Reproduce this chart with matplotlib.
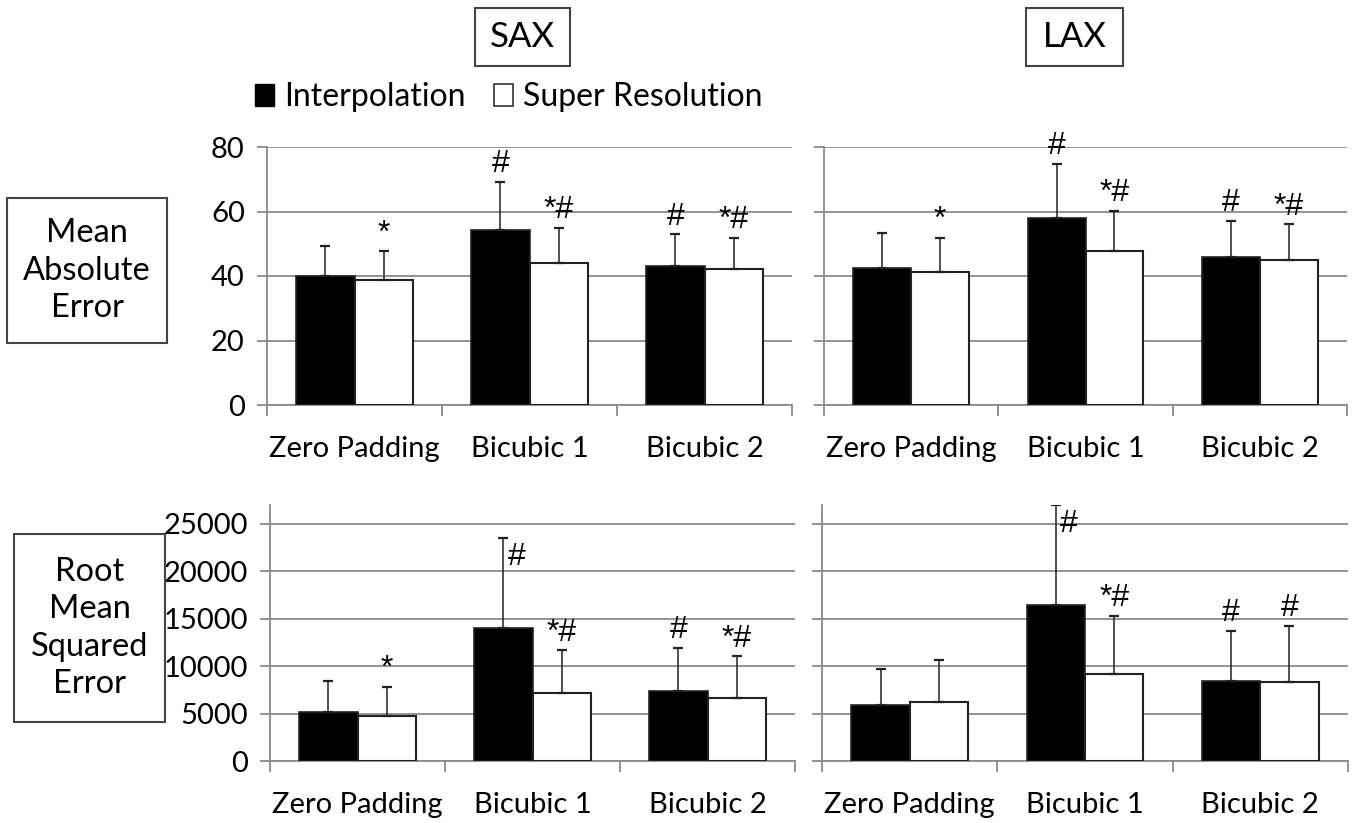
import numpy as np
import matplotlib.pyplot as plt
from matplotlib.patches import Patch, Rectangle

plt.rcParams['font.family'] = ['Lato', 'DejaVu Sans']

categories = ["Zero Padding", "Bicubic 1", "Bicubic 2"]
series_names = ["Interpolation", "Super Resolution"]

# mean values and upper standard deviations
sax_mae_interp = [40.1, 54.3, 43.2]
sax_mae_interp_sd = [9.2, 14.9, 9.7]
sax_mae_sr = [38.7, 44.1, 42.1]
sax_mae_sr_sd = [8.9, 10.7, 9.7]

lax_mae_interp = [42.5, 58.1, 45.8]
lax_mae_interp_sd = [10.8, 16.7, 11.2]
lax_mae_sr = [41.2, 47.7, 45.0]
lax_mae_sr_sd = [10.6, 12.4, 11.0]

sax_rmse_interp = [5200, 14050, 7420]
sax_rmse_interp_sd = [3200, 9510, 4530]
sax_rmse_sr = [4710, 7170, 6650]
sax_rmse_sr_sd = [3130, 4500, 4390]

lax_rmse_interp = [5930, 16430, 8430]
lax_rmse_interp_sd = [3800, 10570, 5260]
lax_rmse_sr = [6220, 9160, 8360]
lax_rmse_sr_sd = [4380, 6150, 5900]

# significance marks above each bar (interpolation, super resolution)
sax_mae_marks = (["", "#", "#"], ["*", "*#", "*#"])
lax_mae_marks = (["", "#", "#"], ["*", "*#", "*#"])
sax_rmse_marks = (["", "#", "#"], ["*", "*#", "*#"])
lax_rmse_marks = (["", "#", "#"], ["", "*#", "#"])

mae_ticks = [0, 20, 40, 60, 80]
rmse_ticks = [0, 5000, 10000, 15000, 20000, 25000]

GRID = '#8a8a8a'
EDGE = '#222222'
MARK_FONT = ['Liberation Sans', 'DejaVu Sans']

W, H = 1355, 823
fig = plt.figure(figsize=(W / 100, H / 100), dpi=100)


def px_axes(x0, x1, y0, y1):
    return fig.add_axes([x0 / W, 1 - y1 / H, (x1 - x0) / W, (y1 - y0) / H])


def panel(ax, interp, interp_sd, sr, sr_sd, marks, ticks, ymax, show_labels, beside=()):
    x = np.arange(len(categories))
    bw = 0.332
    ax.bar(x - bw / 2, interp, bw, color='black', edgecolor=EDGE, linewidth=1.2, zorder=3)
    ax.bar(x + bw / 2, sr, bw, color='white', edgecolor=EDGE, linewidth=1.5, zorder=3)
    groups = ((x - bw / 2, interp, interp_sd, marks[0]),
              (x + bw / 2, sr, sr_sd, marks[1]))
    for xs, vals, sds, _ in groups:
        ax.errorbar(xs, vals, yerr=[np.zeros(len(sds)), sds], fmt='none',
                    ecolor=EDGE, elinewidth=1.1, capsize=3.3, capthick=1.6, zorder=4)
    for si, (xs, vals, sds, lbls) in enumerate(groups):
        for i, (xi, v, s, lbl) in enumerate(zip(xs, vals, sds, lbls)):
            if not lbl:
                continue
            top = v + s
            if (si, i) in beside:
                # whisker reaches the top: put the mark next to it
                ax.annotate(lbl, (xi, top), xytext=(3, -3), textcoords='offset points',
                            ha='left', va='top', fontsize=23, family=MARK_FONT,
                            zorder=5, annotation_clip=False)
            else:
                ax.annotate(lbl, (xi, top), xytext=(0, 2), textcoords='offset points',
                            ha='center', va='bottom', fontsize=23, family=MARK_FONT,
                            zorder=5, annotation_clip=False)

    ax.set_xlim(-0.5, len(categories) - 0.5)
    ax.set_ylim(0, ymax)
    ax.set_yticks(ticks)
    ax.yaxis.grid(True, color=GRID, linewidth=1.3, zorder=0)
    ax.set_axisbelow(True)
    for side in ('top', 'right'):
        ax.spines[side].set_visible(False)
    for side in ('left', 'bottom'):
        ax.spines[side].set_color(GRID)
        ax.spines[side].set_linewidth(1.3)

    ax.set_xticks(np.arange(len(categories) + 1) - 0.5)
    ax.set_xticklabels([])
    ax.set_xticks(x, minor=True)
    ax.set_xticklabels(categories, minor=True)
    ax.tick_params(axis='x', which='major', length=8, width=1.3, color=GRID)
    ax.tick_params(axis='x', which='minor', length=0, pad=22, labelsize=21)
    ax.tick_params(axis='y', length=7, width=1.3, color=GRID, pad=9, labelsize=21,
                   labelleft=show_labels)


ax1 = px_axes(267, 792, 147, 405)
panel(ax1, sax_mae_interp, sax_mae_interp_sd, sax_mae_sr, sax_mae_sr_sd,
      sax_mae_marks, mae_ticks, 80, True)
ax2 = px_axes(824, 1347, 147, 405)
panel(ax2, lax_mae_interp, lax_mae_interp_sd, lax_mae_sr, lax_mae_sr_sd,
      lax_mae_marks, mae_ticks, 80, False)
ax3 = px_axes(270, 795, 505, 761)
panel(ax3, sax_rmse_interp, sax_rmse_interp_sd, sax_rmse_sr, sax_rmse_sr_sd,
      sax_rmse_marks, rmse_ticks, 27000, True, beside=((0, 1),))
ax4 = px_axes(822, 1348, 505, 761)
panel(ax4, lax_rmse_interp, lax_rmse_interp_sd, lax_rmse_sr, lax_rmse_sr_sd,
      lax_rmse_marks, rmse_ticks, 27000, False, beside=((0, 1),))


def boxed_text(x0, x1, y0, y1, text, size, spacing=1.2):
    fig.patches.append(Rectangle((x0 / W, 1 - y1 / H), (x1 - x0) / W, (y1 - y0) / H,
                                 transform=fig.transFigure, fill=False,
                                 edgecolor='#444444', linewidth=1.5))
    fig.text((x0 + x1) / 2 / W, 1 - (y0 + y1) / 2 / H, text, ha='center', va='center',
             fontsize=size, linespacing=spacing)


boxed_text(475, 570, 8, 66, "SAX", 25)
boxed_text(1026, 1123, 8, 66, "LAX", 25)
boxed_text(7, 167, 198, 343, "Mean\nAbsolute\nError", 23.5, 1.3)
boxed_text(14, 165, 534, 722, "Root\nMean\nSquared\nError", 23.5, 1.3)

handles = [Patch(facecolor='black', edgecolor='black'),
           Patch(facecolor='white', edgecolor='#333333', linewidth=1.2)]
fig.legend(handles, series_names, loc='center left', bbox_to_anchor=(255 / W, 1 - 97 / H),
           ncol=2, frameon=False, fontsize=23, handlelength=0.6, handleheight=0.7,
           handletextpad=0.3, columnspacing=0.9, borderaxespad=0, borderpad=0)

fig.savefig('out.png', dpi=100)
